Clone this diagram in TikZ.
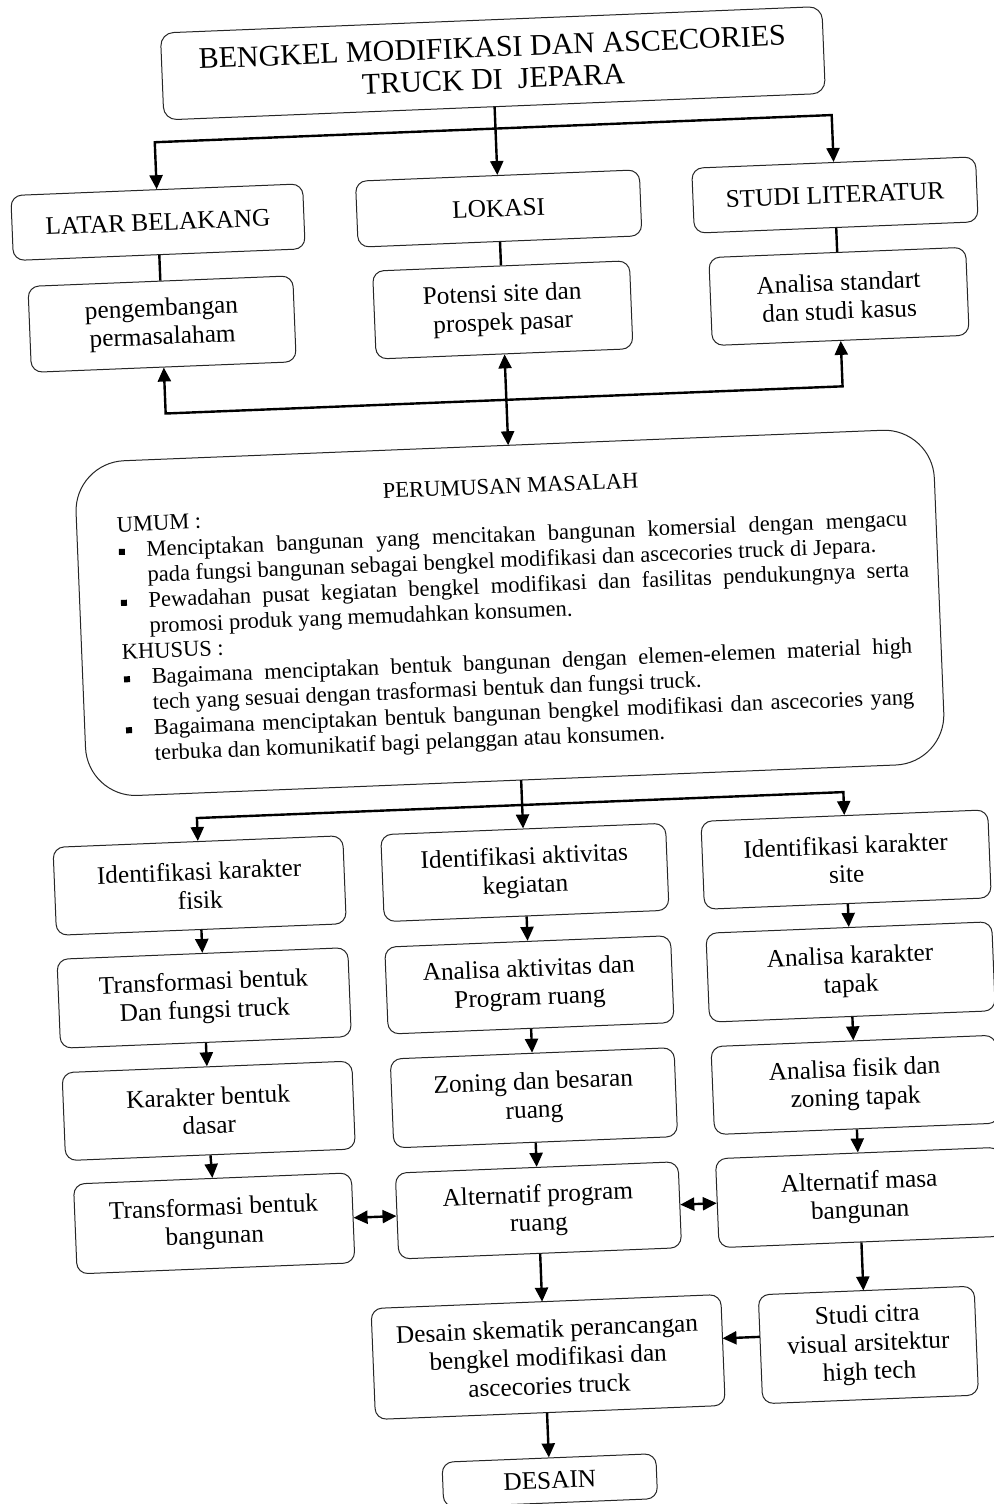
\documentclass[tikz,border=0pt]{standalone}
\usepackage{fontspec}
\setmainfont{Liberation Serif}
\usetikzlibrary{arrows.meta}
\newcommand\pbul{\hspace*{1pt}\rule[2.5pt]{6pt}{6pt}\hspace*{21.8pt}}
\newcommand\pind{\hspace*{28.8pt}}
\begin{document}
\begin{tikzpicture}[x=1pt,y=-1pt,
  box/.style={draw=black!85, line width=1pt, rounded corners=11pt, inner sep=0pt, align=center,
    font=\fontsize{25.3pt}{28.5pt}\selectfont},
  sz/.style 2 args={minimum width=#1pt, minimum height=#2pt},
  conn/.style={line width=2.4pt},
  arr/.style={conn, -{Triangle[length=14pt,width=13pt]}},
  darr/.style={conn, {Triangle[length=14pt,width=13pt]}-{Triangle[length=14pt,width=13pt]}},
]
\fill[white] (0,0) rectangle (993,1504);
\useasboundingbox (0,0) rectangle (993,1504);
\begin{scope}[rotate around={2.3:(496.5,752)}, transform shape]
% top section
\node[box, sz={662}{87}, rounded corners=13pt, font=\fontsize{30pt}{32pt}\selectfont] (T) at (520.5,63.6)
  {BENGKEL MODIFIKASI DAN ASCECORIES\\TRUCK DI\ \ JEPARA};
\node[box, sz={292}{65}] (L1) at (179.5,209) {LATAR BELAKANG};
\node[box, sz={284}{66}] (L2) at (520.5,209) {LOKASI};
\node[box, sz={284}{65}] (L3) at (857,209) {STUDI LITERATUR};
\node[box, sz={265}{86}] (M1) at (179.5,311) {pengembangan\\permasalaham};
\node[box, sz={257}{88}] (M2) at (520.5,310.5) {Potensi site dan\\prospek pasar};
\node[box, sz={257}{88}] (M3) at (857,310.5) {Analisa standart\\dan studi kasus};
% perumusan
\node[box, rounded corners=50pt, sz={859}{335}] (P) at (515.5,613.5) {};
\node[anchor=base west, inner sep=0pt] (Ptxt) at (126,494) {%
\begin{minipage}[t]{790pt}\fontsize{22.5pt}{25.5pt}\selectfont\parindent=0pt\lineskiplimit=-50pt\relax
\makebox[790pt][c]{PERUMUSAN MASALAH}\par\vspace{-2.5pt}
UMUM :\par
\pbul\makebox[761pt][s]{Menciptakan bangunan yang mencitakan bangunan komersial dengan mengacu}\par
\pind pada fungsi bangunan sebagai bengkel modifikasi dan ascecories truck di Jepara.\par
\pbul\makebox[761pt][s]{Pewadahan pusat kegiatan bengkel modifikasi dan fasilitas pendukungnya serta}\par
\pind promosi produk yang memudahkan konsumen.\par
KHUSUS :\par
\pbul\makebox[761pt][s]{Bagaimana menciptakan bentuk bangunan dengan elemen-elemen material high}\par
\pind tech yang sesuai dengan trasformasi bentuk dan fungsi truck.\par
\pbul\makebox[761pt][s]{Bagaimana menciptakan bentuk bangunan bengkel modifikasi dan ascecories yang}\par
\pind terbuka dan komunikatif bagi pelanggan atau konsumen.
\end{minipage}};
% lower columns
\node[box, sz={290}{88}] (A1) at (194.5,873.5) {Identifikasi karakter\\fisik};
\node[box, sz={291}{89}] (A2) at (194.5,986) {Transformasi bentuk\\Dan fungsi truck};
\node[box, sz={290}{88}] (A3) at (194.5,1099) {Karakter bentuk\\dasar};
\node[box, sz={278}{90}] (A4) at (195.5,1211.7) {Transformasi bentuk\\bangunan};
\node[box, sz={285}{87}] (B1) at (520,873.5) {Identifikasi aktivitas\\kegiatan};
\node[box, sz={286}{87}] (B2) at (520,986) {Analisa aktivitas dan\\Program ruang};
\node[box, sz={284}{89}] (B3) at (520,1099) {Zoning dan besaran\\ruang};
\node[box, sz={283}{86}] (B4) at (520,1211.7) {Alternatif program\\ruang};
\node[box, sz={287}{88}] (C1) at (841.5,873.5) {Identifikasi karakter\\site};
\node[box, sz={286}{89}] (C2) at (841.5,986) {Analisa karakter\\tapak};
\node[box, sz={285}{88}] (C3) at (841.5,1099) {Analisa fisik dan\\zoning tapak};
\node[box, sz={285}{89}] (C4) at (841.5,1211.7) {Alternatif masa\\bangunan};
\node[box, sz={350}{111}] (D1) at (523.8,1358.6) {Desain skematik perancangan\\bengkel modifikasi dan\\ascecories truck};
\node[box, sz={216}{109}] (D2) at (844.3,1359.4) {Studi citra\\visual arsitektur\\high tech};
\node[box, sz={214}{45}] (D3) at (520.5,1482) {DESAIN};
% helper coordinates
\coordinate (h1) at (520.5,129);
\coordinate (h1l) at (179.5,129);
\coordinate (h1r) at (857,129);
\coordinate (h2) at (520.5,400.5);
\coordinate (h2l) at (179.5,400.5);
\coordinate (h2r) at (857,400.5);
\coordinate (pin) at (520.5,446);
\coordinate (pout) at (520,781);
\coordinate (h3) at (520,806);
\coordinate (h3l) at (194.5,806);
\coordinate (h3r) at (841.5,806);
\coordinate (d1in) at (520,1303.1);
\coordinate (d2in) at (841.5,1304.9);
\coordinate (d2w) at (736.3,1347);
\coordinate (d1e) at (698.8,1347);
\coordinate (d1out) at (520.5,1414.1);
% connectors top
\draw[arr] (T.south) -- (L2.north);
\draw[arr] (h1) -- (h1l) -- (L1.north);
\draw[arr] (h1) -- (h1r) -- (L3.north);
\draw[conn] (L1.south) -- (M1.north);
\draw[conn] (L2.south) -- (M2.north);
\draw[conn] (L3.south) -- (M3.north);
\draw[arr] (h2) -- (h2l) -- (M1.south);
\draw[arr] (h2) -- (h2r) -- (M3.south);
\draw[darr] (M2.south) -- (pin);
% connectors lower
\draw[arr] (pout) -- (B1.north);
\draw[arr] (h3) -- (h3l) -- (A1.north);
\draw[arr] (h3) -- (h3r) -- (C1.north);
\draw[arr] (A1.south) -- (A2.north);
\draw[arr] (A2.south) -- (A3.north);
\draw[arr] (A3.south) -- (A4.north);
\draw[arr] (B1.south) -- (B2.north);
\draw[arr] (B2.south) -- (B3.north);
\draw[arr] (B3.south) -- (B4.north);
\draw[arr] (C1.south) -- (C2.north);
\draw[arr] (C2.south) -- (C3.north);
\draw[arr] (C3.south) -- (C4.north);
\draw[darr] (A4.east) -- (B4.west);
\draw[darr] (B4.east) -- (C4.west);
\draw[arr] (B4.south) -- (d1in);
\draw[arr] (C4.south) -- (d2in);
\draw[arr] (d2w) -- (d1e);
\draw[arr] (d1out) -- (D3.north);
\end{scope}
\end{tikzpicture}
\end{document}
